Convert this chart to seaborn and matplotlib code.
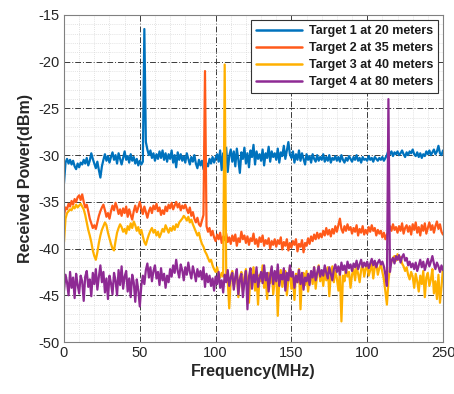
import numpy as np
import pandas as pd
import matplotlib
matplotlib.use("Agg")
import matplotlib.pyplot as plt
import seaborn as sns
from matplotlib.ticker import MultipleLocator, FixedLocator, FixedFormatter

# ---------------- data (1 MHz steps, 0..250 MHz) ----------------
freq_mhz = list(range(0, 251))

target1 = [
    -33.0, -30.8, -30.4, -30.9, -30.5, -31.0, -30.6, -31.2, -31.5, -30.9,
    -31.3, -30.8, -31.0, -30.5, -30.9, -30.3, -31.1, -30.6, -29.8, -30.4,
    -30.9, -31.4, -30.7, -31.6, -32.4, -31.2, -30.5, -29.9, -30.6, -30.1,
    -30.8, -30.2, -29.7, -30.5, -30.0, -30.9, -29.8, -30.4, -31.0, -30.3,
    -29.6, -30.5, -30.1, -30.8, -29.9, -30.6, -30.2, -30.9, -30.4, -31.1,
    -30.6, -31.0, -30.7, -16.5, -28.6, -29.4, -30.0, -29.5, -30.3, -29.8,
    -30.6, -29.9, -30.4, -29.6, -30.3, -29.5, -30.5, -29.8, -30.7, -29.9,
    -30.4, -29.5, -30.8, -30.0, -31.3, -29.7, -30.5, -29.9, -30.6, -30.1,
    -30.8, -29.8, -30.4, -31.0, -30.2, -30.7, -30.0, -30.9, -31.4, -30.5,
    -31.1, -30.6, -31.5, -30.8, -30.9, -31.2, -30.4, -30.9, -30.2, -30.8,
    -30.3, -29.9, -30.7, -29.5, -31.6, -29.8, -30.6, -29.2, -31.8, -30.1,
    -29.4, -30.7, -29.6, -31.2, -29.3, -30.5, -31.9, -29.7, -30.4, -29.2,
    -30.9, -29.8, -31.3, -29.5, -30.2, -28.9, -31.0, -29.6, -30.4, -29.9,
    -30.6, -29.4, -31.1, -29.8, -30.3, -29.1, -30.7, -29.6, -30.2, -29.8,
    -30.5, -29.3, -30.8, -29.7, -30.1, -29.0, -30.4, -29.5, -28.6, -29.9,
    -30.3, -29.6, -30.8, -29.9, -30.5, -29.5, -30.6, -29.8, -30.4, -31.0,
    -29.9, -30.5, -30.1, -30.8, -29.9, -30.4, -30.7, -30.0, -30.6, -30.2,
    -30.5, -29.9, -30.7, -30.2, -30.6, -30.0, -30.8, -30.3, -30.5, -30.1,
    -30.6, -30.2, -30.7, -30.0, -30.5, -30.8, -30.3, -30.6, -30.1, -30.4,
    -30.7, -30.2, -30.5, -30.0, -30.6, -30.3, -30.8, -30.2, -30.5, -30.4,
    -30.6, -30.1, -30.5, -30.3, -30.7, -30.2, -30.4, -30.6, -30.3, -30.5,
    -30.2, -30.6, -30.3, -30.0, -29.5, -29.9, -29.6, -30.1, -29.7, -29.9,
    -29.6, -30.0, -29.8, -29.5, -29.9, -30.2, -29.7, -30.0, -29.6, -29.8,
    -29.4, -29.9, -30.1, -29.7, -30.2, -29.8, -30.3, -29.9, -30.1, -29.6,
    -29.9, -29.5, -30.0, -29.7, -29.4, -29.9, -29.6, -29.0, -29.8, -30.0,
    -29.5,
]

target2 = [
    -36.5, -35.6, -35.8, -35.2, -35.5, -34.9, -35.3, -34.7, -35.0, -34.5,
    -34.3, -34.8, -34.2, -35.0, -35.6, -35.3, -36.0, -36.8, -37.3, -37.8,
    -37.5, -37.9, -37.2, -36.5, -36.0, -35.6, -35.3, -35.9, -36.6, -36.2,
    -36.8, -36.0, -35.4, -35.9, -35.1, -35.6, -36.3, -35.8, -36.5, -35.7,
    -36.2, -35.5, -36.6, -35.8, -36.4, -36.9, -36.0, -35.4, -36.1, -35.6,
    -35.0, -35.7, -36.3, -35.5, -36.1, -36.7, -36.0, -35.6, -36.2, -35.4,
    -35.8, -35.2, -36.0, -35.6, -36.4, -35.9, -36.3, -35.5, -36.0, -35.3,
    -35.7, -35.1, -35.8, -35.4, -35.0, -35.6, -35.2, -35.9, -35.4, -35.7,
    -35.3, -35.8, -36.2, -35.6, -36.5, -36.1, -36.8, -37.2, -36.7, -37.4,
    -37.6, -37.0, -36.4, -21.0, -37.6, -38.2, -37.8, -38.6, -38.1, -38.8,
    -39.2, -38.5, -39.0, -38.3, -39.4, -38.7, -39.1, -38.4, -39.3, -38.8,
    -39.5, -38.6, -39.2, -38.5, -39.7, -38.9, -39.3, -38.2, -39.0, -38.6,
    -39.4, -38.7, -39.6, -38.9, -39.2, -38.4, -39.5, -39.0, -39.8, -38.8,
    -39.3, -38.6, -39.7, -39.1, -39.5, -38.9, -40.0, -39.2, -39.6, -39.0,
    -39.8, -39.1, -39.5, -38.8, -40.1, -39.3, -39.7, -39.0, -40.2, -39.4,
    -39.9, -39.2, -39.6, -39.0, -40.3, -39.5, -39.8, -39.1, -40.4, -39.4,
    -39.7, -38.9, -39.5, -38.7, -39.2, -38.5, -39.0, -38.3, -38.9, -38.4,
    -38.8, -38.1, -38.6, -37.8, -38.5, -38.0, -38.7, -37.9, -38.4, -37.6,
    -38.2, -37.5, -36.8, -37.9, -38.3, -37.6, -38.1, -37.4, -38.0, -37.7,
    -38.4, -37.8, -38.2, -37.5, -38.6, -37.9, -38.3, -37.6, -38.5, -38.0,
    -38.4, -37.7, -38.2, -37.5, -38.1, -37.8, -38.6, -38.0, -38.4, -38.1,
    -38.8, -38.3, -39.0, -38.5, -38.2, -37.6, -38.1, -37.4, -38.0, -37.7,
    -38.3, -37.6, -38.1, -37.3, -38.4, -37.8, -37.5, -38.2, -37.6, -38.5,
    -37.4, -38.0, -37.2, -38.3, -37.7, -38.6, -37.5, -38.1, -37.3, -38.4,
    -37.8, -37.2, -38.0, -37.5, -38.3, -37.6, -37.1, -37.9, -37.4, -38.2,
    -38.5,
]

target3 = [
    -39.3, -36.8, -36.2, -36.0, -35.8, -35.9, -35.5, -35.7, -35.3, -35.6,
    -35.4, -35.2, -35.5, -35.8, -36.4, -37.2, -38.0, -38.6, -39.3, -40.2,
    -40.8, -41.2, -40.4, -39.4, -38.6, -38.0, -37.6, -37.2, -37.5, -38.3,
    -38.9, -39.5, -40.0, -40.2, -39.2, -38.3, -37.8, -37.4, -37.7, -38.2,
    -37.9, -38.4, -37.6, -38.0, -37.3, -37.8, -37.1, -37.5, -38.1, -37.7,
    -38.4, -38.0, -38.7, -39.3, -39.6, -39.0, -38.5, -38.1, -37.8, -38.3,
    -38.0, -38.6, -38.2, -38.8, -38.4, -37.9, -38.2, -37.5, -37.9, -38.3,
    -37.8, -38.1, -37.6, -38.0, -37.4, -37.7, -37.2, -37.0, -36.8, -36.5,
    -36.7, -37.0, -36.6, -37.2, -36.9, -37.4, -37.8, -38.2, -38.6, -38.3,
    -39.0, -39.5, -39.8, -40.3, -40.6, -41.0, -41.4, -41.2, -41.8, -42.2,
    -42.5, -42.0, -42.8, -43.1, -42.6, -43.0, -20.3, -42.7, -43.4, -46.4,
    -43.0, -42.4, -44.0, -43.3, -42.6, -45.2, -43.1, -42.5, -44.6, -43.0,
    -42.2, -43.8, -45.8, -42.9, -43.6, -42.0, -44.5, -43.2, -46.0, -42.8,
    -43.5, -41.8, -44.2, -43.0, -45.4, -42.6, -43.7, -42.1, -44.9, -43.3,
    -42.5, -47.2, -43.2, -42.3, -44.1, -43.0, -42.4, -45.0, -43.4, -42.0,
    -44.3, -43.1, -45.5, -42.7, -43.6, -42.2, -46.5, -43.0, -42.6, -43.9,
    -42.4, -44.6, -43.1, -42.5, -43.8, -42.0, -44.3, -42.8, -41.8, -43.5,
    -42.6, -44.0, -42.3, -43.4, -42.0, -45.1, -42.7, -41.9, -43.6, -42.4,
    -43.2, -44.5, -42.6, -47.8, -42.9, -43.5, -42.1, -43.0, -42.5, -44.2,
    -42.8, -42.2, -43.4, -41.9, -42.7, -43.6, -42.3, -41.6, -43.0, -42.2,
    -41.8, -42.9, -42.3, -41.5, -43.2, -42.0, -41.6, -42.8, -42.1, -41.7,
    -42.5, -43.3, -44.6, -46.0, -43.5, -42.0, -41.4, -41.0, -40.8, -41.3,
    -40.6, -41.2, -40.9, -41.6, -41.9, -42.4, -42.0, -42.8, -43.3, -42.5,
    -43.0, -44.2, -42.7, -43.5, -44.6, -42.9, -43.8, -42.4, -45.2, -43.1,
    -42.6, -44.0, -43.3, -42.2, -44.8, -43.5, -45.4, -42.8, -45.8, -44.1,
    -42.0,
]

target4 = [
    -44.5, -42.8, -43.6, -45.0, -42.5, -44.2, -43.1, -45.3, -42.7, -43.9,
    -44.8, -42.9, -43.5, -45.6, -43.0, -42.4, -44.1, -43.3, -45.1, -42.6,
    -43.8, -42.2, -44.4, -43.0, -41.8, -43.6, -42.5, -44.7, -43.2, -45.4,
    -42.9, -43.7, -44.9, -42.6, -43.4, -45.0, -42.3, -43.9, -41.9, -44.3,
    -43.0, -42.4, -44.6, -43.2, -45.2, -42.8, -43.6, -45.7, -43.3, -44.4,
    -46.2, -44.0, -42.9, -43.8, -42.3, -41.6, -43.1, -42.0, -43.5, -42.4,
    -41.8, -43.2, -42.5, -43.9, -42.1, -43.4, -42.7, -44.2, -42.9, -43.6,
    -42.2, -43.0, -41.8, -42.6, -41.2, -42.4, -43.1, -41.7, -42.3, -43.4,
    -42.0, -42.8, -41.5, -42.5, -43.2, -41.9, -42.6, -43.5, -42.2, -43.0,
    -42.4, -43.3, -42.0, -44.1, -42.7, -43.6, -42.9, -44.0, -43.2, -44.5,
    -43.0, -43.8, -42.5, -44.2, -43.4, -44.7, -42.8, -43.6, -42.3, -44.0,
    -43.1, -42.6, -44.4, -43.0, -42.2, -44.9, -43.3, -42.7, -45.2, -43.5,
    -42.4, -46.5, -43.0, -42.1, -44.3, -42.8, -43.6, -42.0, -44.1, -43.2,
    -42.5, -43.7, -41.8, -43.4, -42.6, -44.6, -42.9, -41.9, -43.8, -42.4,
    -43.5, -41.7, -44.0, -42.8, -43.3, -42.1, -44.5, -42.6, -43.4, -41.8,
    -43.0, -42.5, -44.2, -42.9, -43.6, -42.3, -43.8, -42.6, -44.4, -43.1,
    -43.5, -42.7, -43.9, -42.4, -43.1, -42.0, -43.4, -42.6, -41.9, -43.0,
    -42.3, -42.9, -41.8, -42.6, -43.2, -42.0, -42.7, -43.4, -42.2, -41.7,
    -42.5, -41.9, -42.8, -41.5, -42.3, -41.8, -42.6, -41.4, -42.1, -41.7,
    -42.4, -41.6, -42.0, -41.3, -42.2, -41.7, -41.2, -42.0, -41.5, -41.9,
    -41.4, -42.1, -41.6, -41.1, -41.8, -41.3, -42.0, -41.5, -41.2, -41.7,
    -41.4, -41.9, -42.8, -44.0, -24.0, -42.5, -41.3, -41.0, -41.6, -40.8,
    -41.2, -40.7, -41.5, -40.9, -40.6, -41.3, -41.0, -41.8, -41.4, -42.0,
    -41.6, -42.2, -41.5, -42.4, -41.8, -41.2, -42.0, -41.4, -42.3, -41.7,
    -41.1, -41.9, -41.4, -40.8, -41.6, -42.2, -41.5, -41.9, -42.5, -41.8,
    -42.3,
]

series_names = ["Target 1 at 20 meters", "Target 2 at 35 meters",
                "Target 3 at 40 meters", "Target 4 at 80 meters"]
series_values = [target1, target2, target3, target4]
colors = ["#0072BD", "#FF5A1A", "#FFB000", "#8E2A94"]

x_ticks = [0, 50, 100, 150, 200, 250]
x_tick_labels = ["0", "50", "100", "150", "100", "250"]
y_ticks = [-50, -45, -40, -35, -30, -25, -20, -15]

# ---------------- build long table ----------------
frames = []
for name, vals in zip(series_names, series_values):
    frames.append(pd.DataFrame({"freq": freq_mhz, "power": vals, "target": name}))
df = pd.concat(frames, ignore_index=True)

sns.set_style("white")
plt.rcParams["font.family"] = ["Liberation Sans", "DejaVu Sans"]
plt.rcParams["axes.unicode_minus"] = False

fig = plt.figure(figsize=(4.54, 3.94), dpi=100)
ax = fig.add_axes([64 / 454, 52 / 394, 379 / 454, 327 / 394])

sns.lineplot(data=df, x="freq", y="power", hue="target", palette=colors,
             estimator=None, sort=False, linewidth=1.6, ax=ax)

ax.set_xlim(0, 250)
ax.set_ylim(-50, -15)
ax.xaxis.set_major_locator(FixedLocator(x_ticks))
ax.xaxis.set_major_formatter(FixedFormatter(x_tick_labels))
ax.yaxis.set_major_locator(FixedLocator(y_ticks))
ax.xaxis.set_minor_locator(MultipleLocator(10))
ax.yaxis.set_minor_locator(MultipleLocator(1))

ax.set_axisbelow(True)
ax.grid(which="minor", color="#d9d9d9", linestyle=(0, (1, 1.5)), linewidth=0.6)
ax.grid(which="major", color="#3a3a3a", linestyle=(0, (6, 2, 1, 2)), linewidth=0.7)

ax.tick_params(axis="both", which="major", direction="in", length=3,
               labelsize=10.5, colors="#262626", pad=3)
ax.tick_params(axis="both", which="minor", direction="in", length=1.5, colors="#262626")
for sp in ax.spines.values():
    sp.set_color("#808080")
    sp.set_linewidth(0.8)

ax.set_xlabel("Frequency(MHz)", fontsize=11.5, fontweight="bold", labelpad=3)
ax.set_ylabel("Received Power(dBm)", fontsize=11.5, fontweight="bold", labelpad=4)

leg = ax.legend(loc="upper right", prop={"weight": "bold", "size": 9},
                frameon=True, fancybox=False, framealpha=1, edgecolor="#333333",
                handlelength=3.7, handletextpad=0.5, borderpad=0.4,
                labelspacing=0.4, borderaxespad=0.4)
leg.get_frame().set_linewidth(0.8)
for text in leg.get_texts():
    text.set_color("#1a1a1a")
for line in leg.get_lines():
    line.set_linewidth(1.8)

fig.savefig("out.png", dpi=100)
